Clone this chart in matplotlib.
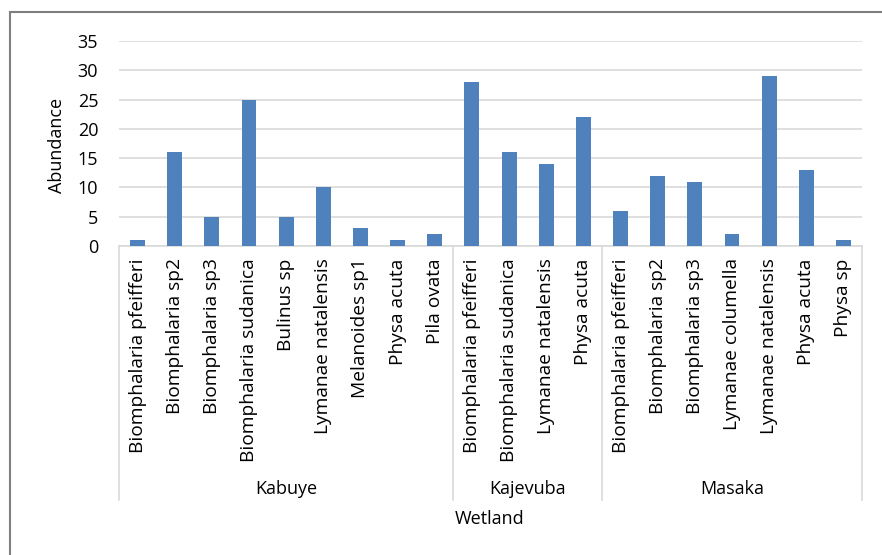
import matplotlib.pyplot as plt
import matplotlib.transforms as mtransforms
from matplotlib.patches import Rectangle

# data
wetlands = ['Kabuye', 'Kajevuba', 'Masaka']
kabuye_species = ['Biomphalaria pfeifferi', 'Biomphalaria sp2', 'Biomphalaria sp3',
                  'Biomphalaria sudanica', 'Bulinus sp', 'Lymanae natalensis',
                  'Melanoides sp1', 'Physa acuta', 'Pila ovata']
kabuye_values = [1, 16, 5, 25, 5, 10, 3, 1, 2]
kajevuba_species = ['Biomphalaria pfeifferi', 'Biomphalaria sudanica',
                    'Lymanae natalensis', 'Physa acuta']
kajevuba_values = [28, 16, 14, 22]
masaka_species = ['Biomphalaria pfeifferi', 'Biomphalaria sp2', 'Biomphalaria sp3',
                  'Lymanae columella', 'Lymanae natalensis', 'Physa acuta', 'Physa sp']
masaka_values = [6, 12, 11, 2, 29, 13, 1]

groups = [kabuye_species, kajevuba_species, masaka_species]
labels = kabuye_species + kajevuba_species + masaka_species
values = kabuye_values + kajevuba_values + masaka_values
x = list(range(len(values)))

plt.rcParams['font.family'] = ['Open Sans', 'DejaVu Sans']

W, H = 882, 555
fig = plt.figure(figsize=(W / 100, H / 100), dpi=100)
ax = fig.add_axes([119 / W, 1 - 246 / H, (862 - 119) / W, (246 - 41) / H])

ax.bar(x, values, width=0.4, color='#4f81bd', zorder=3)
ax.set_xlim(-0.5, len(values) - 0.5)
ax.set_ylim(0, 35)
ax.set_yticks(range(0, 36, 5))
ax.tick_params(axis='y', length=0, labelsize=13, pad=15)
ax.set_xticks(x)
ax.set_xticklabels(labels, rotation=90, fontsize=13.8, va='top')
ax.tick_params(axis='x', length=0, pad=9)
ax.grid(axis='y', color='#d9d9d9', linewidth=1.2, zorder=0)
for s in ['top', 'right', 'left']:
    ax.spines[s].set_visible(False)
ax.spines['bottom'].set_color('#d9d9d9')
ax.spines['bottom'].set_linewidth(1.2)

# multi-level category axis
trans = mtransforms.blended_transform_factory(ax.transData, fig.transFigure)
y_top = 1 - 246 / H
y_bot = 1 - 500 / H
bounds = [-0.5]
for g in groups:
    bounds.append(bounds[-1] + len(g))
for b in bounds:
    ax.plot([b, b], [y_top, y_bot], transform=trans, color='#d9d9d9',
            linewidth=1.2, clip_on=False)
for name, a, b in zip(wetlands, bounds[:-1], bounds[1:]):
    ax.text((a + b) / 2, 1 - 489 / H, name, transform=trans, ha='center',
            va='center', fontsize=13)

fig.text(490 / W, 1 - 519 / H, 'Wetland', ha='center', va='center', fontsize=13)
fig.text(57 / W, 1 - 145 / H, 'Abundance', ha='center', va='center',
         rotation=90, fontsize=13)

# chart frame
fig.patches.append(Rectangle((10 / W, -0.1), 1.2, 1 - 12 / H + 0.1,
                             transform=fig.transFigure, fill=False,
                             edgecolor='#7f7f7f', linewidth=1.5))

fig.savefig('out.png', dpi=100)
